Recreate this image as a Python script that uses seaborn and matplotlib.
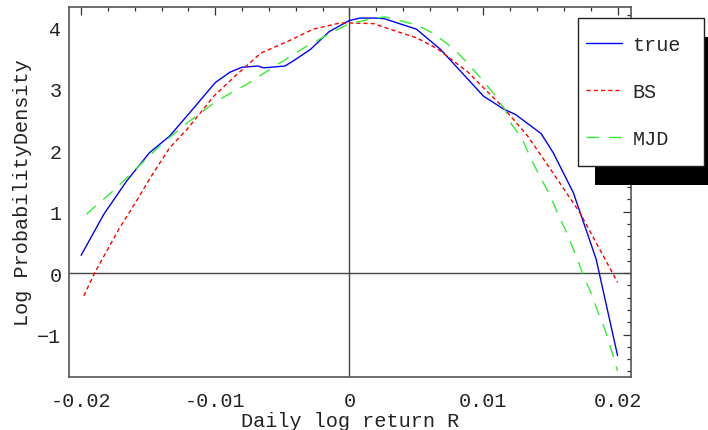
import numpy as np
import pandas as pd
import matplotlib
matplotlib.use("Agg")
import matplotlib.pyplot as plt
import seaborn as sns
from matplotlib.patches import Rectangle
from matplotlib.ticker import MultipleLocator, FixedLocator, FixedFormatter

# Log probability density of daily log returns
true_R = [-0.0200, -0.0183, -0.0166, -0.0149, -0.0134, -0.0119, -0.0100, -0.0089,
          -0.0080, -0.0068, -0.0064, -0.0048, -0.0042, -0.0029, -0.0015, 0.0000,
          0.0008, 0.0019, 0.0026, 0.0050, 0.0068, 0.0100, 0.0115, 0.0124,
          0.0143, 0.0152, 0.0167, 0.0184, 0.0200]
true_logp = [0.29, 0.96, 1.50, 1.96, 2.23, 2.61, 3.10, 3.27,
             3.35, 3.37, 3.34, 3.37, 3.45, 3.64, 3.93, 4.11,
             4.15, 4.15, 4.14, 3.97, 3.64, 2.88, 2.67, 2.58,
             2.27, 1.96, 1.31, 0.23, -1.34]

bs_R = [-0.0198, -0.0190, -0.0172, -0.0158, -0.0149, -0.0134, -0.0121, -0.0101,
        -0.0084, -0.0066, -0.0046, -0.0027, -0.0007, 0.0000, 0.0018, 0.0033,
        0.0050, 0.0065, 0.0088, 0.0115, 0.0133, 0.0150, 0.0172, 0.0200]
bs_logp = [-0.37, 0.00, 0.71, 1.20, 1.53, 2.04, 2.34, 2.88,
           3.23, 3.58, 3.77, 3.97, 4.07, 4.07, 4.06, 3.95,
           3.83, 3.66, 3.28, 2.69, 2.23, 1.69, 0.98, -0.15]

mjd_R = [-0.0196, -0.0176, -0.0157, -0.0139, -0.0120, -0.0099, -0.0076, -0.0054,
         -0.0032, -0.0010, 0.0000, 0.0013, 0.0026, 0.0050, 0.0062, 0.0072,
         0.0082, 0.0090, 0.0099, 0.0108, 0.0116, 0.0121, 0.0129, 0.0134,
         0.0140, 0.0150, 0.0155, 0.0161, 0.0165, 0.0171, 0.0175, 0.0180,
         0.0185, 0.0190, 0.0194, 0.0200]
mjd_logp = [0.96, 1.34, 1.74, 2.12, 2.46, 2.80, 3.08, 3.39,
            3.69, 3.95, 4.06, 4.12, 4.17, 4.04, 3.91, 3.75,
            3.56, 3.37, 3.15, 2.91, 2.66, 2.42, 2.18, 1.93,
            1.66, 1.25, 0.99, 0.71, 0.50, 0.17, -0.07, -0.31,
            -0.61, -0.88, -1.15, -1.59]

x_ticks = [-0.02, -0.01, 0.0, 0.01, 0.02]
x_tick_labels = ["-0.02", "-0.01", "0", "0.01", "0.02"]
y_ticks = [-1, 0, 1, 2, 3, 4]
y_tick_labels = ["\u22121", "0", "1", "2", "3", "4"]

FS = 14.5

sns.set_style("white")
plt.rcParams['font.family'] = ['Liberation Mono', 'DejaVu Sans']
plt.rcParams['font.size'] = FS

fig = plt.figure(figsize=(7.08, 4.31), dpi=100)
ax = fig.add_axes([0.0975, 0.1230, 0.7937, 0.8584])

sns.lineplot(x=true_R, y=true_logp, ax=ax, color=(0, 0, 1), lw=1.0, label="true",
             sort=False, estimator=None)
sns.lineplot(x=bs_R, y=bs_logp, ax=ax, color=(1, 0, 0), lw=1.0, label="BS",
             sort=False, estimator=None, dashes=False)
sns.lineplot(x=mjd_R, y=mjd_logp, ax=ax, color="#33ee33", lw=1.0, label="MJD",
             sort=False, estimator=None, dashes=False)
ax.lines[1].set_dashes((3, 2.2))
ax.lines[2].set_dashes((9, 7))

ax.set_xlim(-0.0209, 0.0210)
ax.set_ylim(-1.69, 4.33)
ax.axhline(0, color="#444444", lw=1.0, zorder=1)
ax.axvline(0, color="#444444", lw=1.0, zorder=1)

ax.xaxis.set_major_locator(FixedLocator(x_ticks))
ax.xaxis.set_major_formatter(FixedFormatter(x_tick_labels))
ax.xaxis.set_minor_locator(MultipleLocator(0.002))
ax.yaxis.set_major_locator(FixedLocator(y_ticks))
ax.yaxis.set_major_formatter(FixedFormatter(y_tick_labels))
ax.yaxis.set_minor_locator(MultipleLocator(0.2))
ax.tick_params(which="both", direction="in", top=True, right=True,
               color="#333333", width=0.9, labelsize=FS, labelcolor="#222222")
ax.tick_params(which="major", length=6)
ax.tick_params(which="minor", length=3)
ax.tick_params(axis="x", which="major", pad=10)
ax.tick_params(axis="y", which="major", pad=5.5)
for s in ax.spines.values():
    s.set_color("#555555")
    s.set_linewidth(1.2)

ax.set_xlabel("Daily log return R", fontsize=FS, labelpad=0.5, color="#222222")
ax.set_ylabel("Log ProbabilityDensity", fontsize=FS, labelpad=4, color="#222222")

# legend with a hard black drop shadow
handles, labels = ax.get_legend_handles_labels()
ax.get_legend().remove()
W, H = 708.0, 431.0
fig.patches.append(Rectangle((595 / W, 1 - 186 / H), 130 / W, 148 / H,
                             transform=fig.transFigure, facecolor="black",
                             edgecolor="none", zorder=3))
fig.patches.append(Rectangle((578 / W, 1 - 167 / H), 126 / W, 148 / H,
                             transform=fig.transFigure, facecolor="white",
                             edgecolor="#222222", lw=1.0, zorder=4))
leg = fig.legend(handles, labels, loc="upper left", bbox_to_anchor=(586 / W, 1 - 36 / H),
                 frameon=False, fontsize=FS, handlelength=1.8, handletextpad=0.5,
                 labelspacing=1.4, borderaxespad=0, borderpad=0)
leg.set_zorder(5)

fig.savefig("out.png", dpi=100)
